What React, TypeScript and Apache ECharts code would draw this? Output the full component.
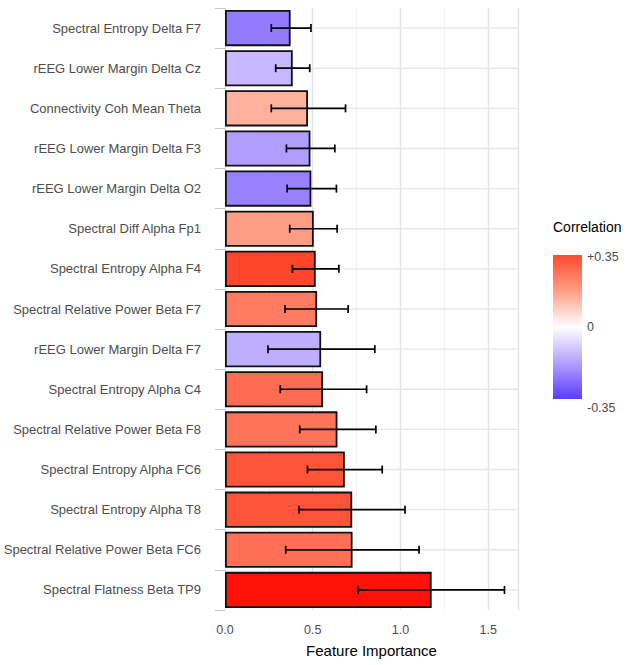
import React, { useEffect, useRef } from "react";
import * as echarts from "echarts";

// Top to bottom as in the picture
const categories = [
  "Spectral Entropy Delta F7",
  "rEEG Lower Margin Delta Cz",
  "Connectivity Coh Mean Theta",
  "rEEG Lower Margin Delta F3",
  "rEEG Lower Margin Delta O2",
  "Spectral Diff Alpha Fp1",
  "Spectral Entropy Alpha F4",
  "Spectral Relative Power Beta F7",
  "rEEG Lower Margin Delta F7",
  "Spectral Entropy Alpha C4",
  "Spectral Relative Power Beta F8",
  "Spectral Entropy Alpha FC6",
  "Spectral Entropy Alpha T8",
  "Spectral Relative Power Beta FC6",
  "Spectral Flatness Beta TP9",
];
const importance = [0.374, 0.386, 0.473, 0.487, 0.492, 0.506, 0.517, 0.525, 0.548, 0.559, 0.641, 0.683, 0.725, 0.727, 1.178];
const errLow = [0.264, 0.289, 0.264, 0.35, 0.354, 0.369, 0.384, 0.342, 0.245, 0.315, 0.426, 0.47, 0.422, 0.346, 0.759];
const errHigh = [0.49, 0.483, 0.687, 0.626, 0.635, 0.639, 0.649, 0.702, 0.854, 0.807, 0.86, 0.896, 1.026, 1.106, 1.593];
const correlation = [-0.24, -0.13, 0.14, -0.18, -0.23, 0.18, 0.36, 0.245, -0.15, 0.28, 0.265, 0.33, 0.33, 0.27, 0.48];
const xTicks = [0, 0.5, 1.0, 1.5];
const legendLabels = ["+0.35", "0", "-0.35"];

const colorStops: [number, string][] = [
  [-0.5, "#2a08ff"],
  [-0.35, "#5a3cff"],
  [-0.175, "#b3a0ff"],
  [0, "#ffffff"],
  [0.175, "#ff9e85"],
  [0.35, "#ff4a2e"],
  [0.5, "#ff0800"],
];

function hexToRgb(h: string) {
  const n = parseInt(h.slice(1), 16);
  return [(n >> 16) & 255, (n >> 8) & 255, n & 255];
}
function corrColor(v: number) {
  if (v <= colorStops[0][0]) return colorStops[0][1];
  for (let i = 1; i < colorStops.length; i++) {
    if (v <= colorStops[i][0]) {
      const [a, ca] = colorStops[i - 1];
      const [b, cb] = colorStops[i];
      const t = (v - a) / (b - a);
      const A = hexToRgb(ca), B = hexToRgb(cb);
      const c = A.map((x, k) => Math.round(x + (B[k] - x) * t));
      return `rgb(${c[0]},${c[1]},${c[2]})`;
    }
  }
  return colorStops[colorStops.length - 1][1];
}

const FONT = "'Liberation Sans', Arial, sans-serif";

export default function App() {
  const ref = useRef<HTMLDivElement>(null);
  useEffect(() => {
    if (!ref.current) return;
    const chart = echarts.init(ref.current, undefined, { renderer: "svg" });
    const gradStops = [] as { offset: number; color: string }[];
    for (let i = 0; i <= 20; i++) {
      const v = 0.35 - (0.7 * i) / 20;
      gradStops.push({ offset: i / 20, color: corrColor(v) });
    }
    const legendX = 553, legendTop = 255, legendH = 144;
    chart.setOption({
      animation: false,
      textStyle: { fontFamily: FONT },
      grid: { left: 225, top: 8, width: 293, height: 602 },
      xAxis: {
        type: "value",
        min: 0,
        max: 1.67,
        interval: 0.5,
        name: "Feature Importance",
        nameLocation: "middle",
        nameGap: 33,
        nameTextStyle: { fontSize: 15, color: "#000", fontFamily: FONT },
        axisLine: { show: false },
        axisTick: { show: false },
        axisLabel: {
          color: "#4d4d4d",
          fontSize: 12.5,
          margin: 13,
          showMaxLabel: false,
          fontFamily: FONT,
          formatter: (v: number) => (xTicks.some((t) => Math.abs(t - v) < 1e-9) ? v.toFixed(1) : ""),
        },
        splitLine: { show: true, lineStyle: { color: "#e3e3e3", width: 1.4 } },
        minorTick: { show: false, splitNumber: 2 },
        minorSplitLine: { show: true, lineStyle: { color: "#f0f0f0", width: 0.8 } },
      },
      yAxis: {
        type: "category",
        data: categories,
        inverse: true,
        axisLine: { show: false },
        axisTick: { show: true, length: 10, lineStyle: { color: "#c8c8c8", width: 1 } },
        axisLabel: { color: "#4d4d4d", fontSize: 13, margin: 24, fontFamily: FONT },
        splitLine: { show: false },
      },
      series: [
        {
          type: "custom",
          z: 1,
          silent: true,
          encode: { y: 0 },
          data: categories.map((c, i) => [i]),
          renderItem: (params: any, api: any) => {
            const cs = params.coordSys;
            const p = api.coord([0, api.value(0)]);
            return {
              type: "line",
              shape: { x1: cs.x, y1: p[1], x2: cs.x + cs.width, y2: p[1] },
              style: { stroke: "#e8e8e8", lineWidth: 1.4 },
            };
          },
        },
        {
          type: "bar",
          z: 2,
          barCategoryGap: "10%",
          data: importance.map((v, i) => ({
            value: v,
            itemStyle: { color: corrColor(correlation[i]) },
          })),
          itemStyle: { borderColor: "#111", borderWidth: 1.8 },
        },
        {
          type: "custom",
          z: 3,
          encode: { x: [0, 1], y: 2 },
          data: categories.map((c, i) => [errLow[i], errHigh[i], i]),
          renderItem: (params: any, api: any) => {
            const lo = api.coord([api.value(0), api.value(2)]);
            const hi = api.coord([api.value(1), api.value(2)]);
            const h = 4;
            const st = { stroke: "#000", lineWidth: 1.7 };
            return {
              type: "group",
              children: [
                { type: "line", shape: { x1: lo[0], y1: lo[1], x2: hi[0], y2: hi[1] }, style: st },
                { type: "line", shape: { x1: lo[0], y1: lo[1] - h, x2: lo[0], y2: lo[1] + h }, style: st },
                { type: "line", shape: { x1: hi[0], y1: hi[1] - h, x2: hi[0], y2: hi[1] + h }, style: st },
              ],
            };
          },
        },
      ],
      graphic: [
        {
          type: "text",
          x: legendX,
          y: 227,
          style: { text: "Correlation", fontSize: 14, fill: "#000", fontFamily: FONT, verticalAlign: "middle" },
        },
        {
          type: "rect",
          shape: { x: legendX, y: legendTop, width: 29, height: legendH },
          style: { fill: new echarts.graphic.LinearGradient(0, 0, 0, 1, gradStops) },
        },
        {
          type: "text",
          x: legendX + 34,
          y: 257,
          style: { text: legendLabels[0], fontSize: 12.5, fill: "#4d4d4d", fontFamily: FONT, verticalAlign: "middle" },
        },
        {
          type: "text",
          x: legendX + 34,
          y: 327,
          style: { text: legendLabels[1], fontSize: 12.5, fill: "#4d4d4d", fontFamily: FONT, verticalAlign: "middle" },
        },
        {
          type: "text",
          x: legendX + 34,
          y: 408,
          style: { text: legendLabels[2], fontSize: 12.5, fill: "#4d4d4d", fontFamily: FONT, verticalAlign: "middle" },
        },
      ],
    });
    return () => chart.dispose();
  }, []);
  return (
    <div
      ref={ref}
      style={{ position: "fixed", left: 0, top: 0, width: 630, height: 665, background: "#fff" }}
    />
  );
}
